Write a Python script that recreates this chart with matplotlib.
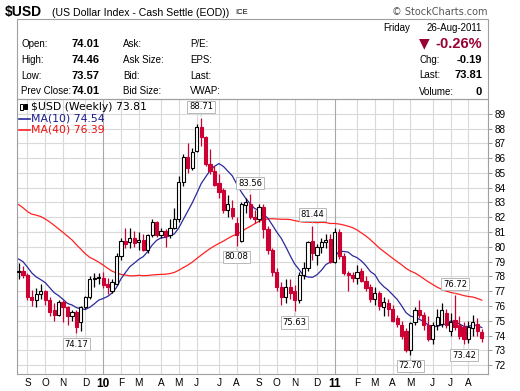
import numpy as np
import pandas as pd
import matplotlib
matplotlib.use('Agg')
import matplotlib.pyplot as plt
from matplotlib.patches import Rectangle

# weekly bars, dated by the Monday of each week
weeks = pd.date_range('2009-08-24', periods=105, freq='W-MON')

opens = [78.3, 78.4, 78.1, 76.6, 76.4, 76.8, 77.0, 76.4, 75.7, 75.4,
         76.3, 75.9, 75.3, 75.6, 74.9, 75.95, 76.6, 77.8, 77.9, 77.9,
         77.5, 77.0, 77.5, 79.4, 80.4, 80.3, 80.6, 80.3, 80.45, 79.8,
         80.8, 81.7, 80.8, 81.05, 80.8, 81.3, 81.9, 84.4, 86.1, 85.3,
         86.5, 88.1, 87.4, 85.6, 85.1, 84.3, 83.85, 82.5, 82.65, 81.6,
         80.4, 82.8, 82.9, 82.0, 81.9, 82.7, 81.2, 79.8, 78.3, 77.3,
         76.6, 77.3, 77.0, 76.4, 78.1, 78.55, 80.4, 79.45, 80.0, 80.35,
         80.5, 79.0, 81.0, 79.4, 78.2, 78.1, 77.9, 78.4, 77.7, 77.3,
         76.5, 76.9, 75.9, 76.2, 75.8, 75.2, 74.7, 74.3, 73.0, 74.9,
         75.75, 75.4, 74.7, 73.8, 74.7, 74.8, 75.5, 74.3, 75.05, 74.7,
         74.6, 73.8, 74.5, 74.8, 74.26]
highs = [78.9, 78.7, 78.2, 77.1, 77.2, 77.5, 77.1, 76.6, 76.2, 76.4,
         76.4, 76.0, 75.7, 75.7, 76.0, 76.7, 78.0, 78.2, 78.2, 78.3,
         77.9, 77.8, 79.6, 80.6, 81.3, 81.3, 81.1, 81.0, 80.9, 80.9,
         81.9, 81.75, 81.3, 81.2, 81.9, 82.6, 84.8, 86.3, 87.0, 86.7,
         88.3, 88.71, 87.5, 86.6, 85.5, 84.9, 84.0, 83.5, 83.2, 82.0,
         83.0, 83.3, 83.56, 82.5, 82.9, 82.9, 81.4, 79.9, 78.6, 77.6,
         77.8, 77.8, 77.4, 78.3, 79.0, 80.4, 81.44, 80.2, 80.6, 80.9,
         80.9, 81.3, 81.2, 79.6, 78.4, 78.3, 78.8, 78.6, 78.0, 77.5,
         77.3, 77.0, 76.6, 76.5, 76.1, 75.4, 75.0, 74.5, 74.9, 75.9,
         76.4, 75.6, 75.3, 74.9, 75.8, 76.2, 75.8, 75.5, 76.72, 75.3,
         74.9, 75.0, 75.4, 75.2, 74.46]
lows = [77.8, 77.9, 76.4, 76.0, 75.9, 76.5, 76.1, 75.3, 75.0, 75.3,
        74.9, 74.7, 75.0, 74.17, 74.3, 75.8, 76.5, 77.3, 77.5, 77.2,
        76.8, 76.9, 77.4, 79.1, 79.9, 79.9, 80.0, 79.8, 79.7, 79.6,
        80.7, 80.7, 80.6, 80.0, 80.6, 81.2, 81.7, 84.1, 85.0, 85.2,
        86.4, 86.8, 85.5, 84.9, 84.1, 83.3, 82.3, 82.0, 81.9, 80.08,
        80.3, 82.3, 81.9, 81.6, 81.7, 80.6, 79.5, 78.0, 77.0, 76.1,
        76.2, 76.5, 75.63, 76.2, 77.8, 78.4, 79.1, 78.8, 79.6, 79.9,
        78.9, 78.9, 79.2, 78.1, 77.0, 77.6, 77.5, 77.6, 77.0, 76.3,
        76.1, 75.7, 75.3, 75.3, 74.9, 74.6, 73.8, 72.9, 72.70, 74.7,
        75.2, 74.4, 73.6, 73.45, 74.4, 74.6, 74.5, 74.0, 74.4, 73.8,
        73.42, 73.5, 74.0, 74.0, 73.57]
closes = [78.4, 78.1, 76.6, 76.4, 76.8, 77.0, 76.4, 75.6, 75.4, 76.3,
          75.9, 75.3, 75.6, 74.6, 75.95, 76.6, 77.85, 77.9, 77.95, 77.4,
          77.3, 77.6, 79.4, 80.4, 80.2, 80.6, 80.25, 80.45, 79.8, 80.8,
          81.7, 80.8, 81.05, 80.75, 81.3, 81.9, 84.4, 86.1, 85.3, 86.4,
          88.1, 87.4, 85.6, 85.1, 84.2, 83.7, 82.5, 82.9, 82.1, 80.8,
          82.9, 83.0, 82.0, 81.9, 82.7, 81.2, 79.8, 78.3, 77.3, 76.6,
          77.3, 76.9, 76.4, 78.1, 78.55, 80.35, 79.6, 80.0, 80.35, 80.45,
          79.0, 81.0, 79.4, 78.2, 78.1, 77.9, 78.3, 77.7, 77.2, 76.5,
          76.9, 76.0, 76.3, 75.8, 75.0, 74.8, 74.0, 73.0, 74.85, 75.75,
          75.4, 74.7, 73.8, 74.7, 75.25, 75.7, 74.7, 74.95, 74.6, 74.0,
          73.8, 74.6, 74.94, 74.3, 73.81]

# closes of the 39 weeks before the first bar, needed for the moving averages
prior_closes = [86.6, 87.0, 83.5, 79.5, 80.8, 82.8, 83.7, 84.5, 86.0, 85.6,
                85.2, 85.8, 87.6, 88.1, 89.0, 87.6, 83.8, 85.0, 85.1, 86.0,
                85.5, 84.3, 84.1, 82.0, 82.9, 80.0, 79.3, 80.8, 80.3, 80.2,
                79.9, 80.3, 80.4, 79.5, 78.8, 78.4, 79.0, 78.8, 78.3]

grid_weeks = ['2009-09-07', '2009-10-05', '2009-11-02', '2009-12-07', '2010-01-04',
              '2010-02-01', '2010-03-01', '2010-04-05', '2010-05-03', '2010-05-31',
              '2010-07-05', '2010-08-02', '2010-09-06', '2010-10-04', '2010-11-01',
              '2010-12-06', '2011-01-03', '2011-02-07', '2011-03-07', '2011-04-04',
              '2011-05-02', '2011-06-06', '2011-07-04', '2011-08-01']
grid_labels = ['S', 'O', 'N', 'D', '10', 'F', 'M', 'A', 'M', 'J', 'J', 'A',
               'S', 'O', 'N', 'D', '11', 'F', 'M', 'A', 'M', 'J', 'J', 'A']

# (week, value, above?) for the high/low callouts
callouts = [('2009-11-23', 74.17, False), ('2010-06-07', 88.71, True),
            ('2010-08-02', 80.08, False), ('2010-08-23', 83.56, True),
            ('2010-11-01', 75.63, False), ('2010-11-29', 81.44, True),
            ('2011-05-02', 72.70, False), ('2011-07-11', 76.72, True),
            ('2011-07-25', 73.42, False)]

W, H = 520, 391
RED = '#cc0033'
BLUE = '#2a2a9c'
MARED = '#ff2222'
GRID = '#d9d9d9'


def fx(x):
    return x / W


def fy(y):
    return 1 - y / H


opens = np.array(opens)
highs = np.array(highs)
lows = np.array(lows)
closes = np.array(closes)
n = len(closes)
idx = np.arange(n)

allc = pd.Series(list(prior_closes) + list(closes))
ma10 = allc.rolling(10).mean().to_numpy()[-n:]
ma40 = allc.rolling(40).mean().to_numpy()[-n:]

fig = plt.figure(figsize=(W / 100, H / 100), dpi=100)
fig.patch.set_facecolor('white')

left, right, top, bottom = 16.5, 488, 99, 374
ax = fig.add_axes([fx(left), fy(bottom), fx(right - left), (bottom - top) / H])
ax.set_xlim(-0.45, 105.4)
ax.set_ylim(71.4, 90.0)

# grid
for v in range(72, 90):
    ax.axhline(v, color=GRID, lw=0.8, zorder=0)
wk_pos = {d: i for i, d in enumerate(weeks.strftime('%Y-%m-%d'))}
gx = [wk_pos[d] for d in grid_weeks]
for p, lab in zip(gx, grid_labels):
    yr = lab.isdigit()
    ax.axvline(p, color='#a8a8a8' if yr else GRID, lw=0.8, zorder=0)

# moving averages
ax.plot(idx, ma40, color=MARED, lw=0.9, zorder=2)
ax.plot(idx, ma10, color=BLUE, lw=0.9, zorder=2)

# candles
up = closes >= opens
for i in range(n):
    c = 'black' if up[i] else RED
    lo_b, hi_b = min(opens[i], closes[i]), max(opens[i], closes[i])
    ax.vlines(i, lows[i], highs[i], color=c, lw=0.9, zorder=3)
    hgt = max(hi_b - lo_b, 0.04)
    ax.add_patch(Rectangle((i - 0.35, lo_b), 0.7, hgt,
                           facecolor='white' if up[i] else RED,
                           edgecolor=c, lw=0.8, zorder=4))

# callouts
for d, v, above in callouts:
    i = wk_pos[d]
    ax.annotate(f'{v:.2f}', xy=(i, v), xytext=(0, 8 if above else -8),
                textcoords='offset points', ha='center', va='center',
                fontsize=6, family='DejaVu Sans', zorder=6,
                bbox=dict(boxstyle='square,pad=0.2', fc='white', ec='#b8b8b8', lw=0.7),
                arrowprops=dict(arrowstyle='-', color='#c8c8c8', lw=0.6, shrinkA=0, shrinkB=1))

ax.yaxis.tick_right()
ax.set_yticks(range(72, 90))
ax.set_yticklabels([str(v) for v in range(72, 90)], fontsize=7.2, family='Liberation Sans')
ax.tick_params(axis='y', length=3, width=0.6, color='#888888', pad=1.5)
ax.set_xticks(gx)
ax.set_xticklabels(grid_labels, fontsize=7.2, family='Liberation Sans')
for t, lab in zip(ax.get_xticklabels(), grid_labels):
    if lab.isdigit():
        t.set_fontweight('bold')
        t.set_fontsize(8.5)
ax.tick_params(axis='x', length=0, pad=3)
for s in ax.spines.values():
    s.set_color('#a0a0a0')
    s.set_linewidth(0.8)

# legend
lg = dict(transform=fig.transFigure, fontsize=7.8, family='DejaVu Sans', va='center')
fig.add_artist(Rectangle((fx(20), fy(110)), fx(2.5), 6 / H, transform=fig.transFigure,
                         fc='white', ec='black', lw=0.7))
fig.add_artist(Rectangle((fx(24), fy(109)), fx(2.5), 5 / H, transform=fig.transFigure,
                         fc='black', ec='black', lw=0.7))
fig.text(fx(31), fy(107), '\\$USD (Weekly) 73.81', color='black', **lg)
fig.add_artist(plt.Line2D([fx(19), fx(30)], [fy(118.5)] * 2, color=BLUE, lw=1.2))
fig.text(fx(31), fy(118.5), f'MA(10) {ma10[-1]:.2f}', color='#1c1c8c', **lg)
fig.add_artist(plt.Line2D([fx(19), fx(30)], [fy(130)] * 2, color=MARED, lw=1.2))
fig.text(fx(31), fy(130), f'MA(40) {ma40[-1]:.2f}', color='#ee1111', **lg)

# header
fig.text(fx(5), fy(12), '\\$USD', fontsize=10, fontweight='bold', family='Liberation Sans', va='center')
fig.text(fx(52), fy(12.5), '(US Dollar Index - Cash Settle (EOD))', fontsize=7.6,
         family='Liberation Sans', va='center')
fig.text(fx(235), fy(12.5), 'ICE', fontsize=5.5, family='Liberation Sans', va='center')
fig.text(fx(488), fy(12), '\u00a9 StockCharts.com', fontsize=7, family='DejaVu Sans',
         color='#555555', ha='right', va='center')

fig.add_artist(Rectangle((fx(left), fy(top)), fx(right - left), (top - 19) / H,
                         transform=fig.transFigure, fc='none', ec='#a0a0a0', lw=0.8))

info = dict(fontsize=7.0, family='Liberation Sans', va='center')
vals = dict(fontsize=8, family='Liberation Sans', fontweight='bold', va='center', ha='right')
rows_y = [44, 60, 76, 91.5]
for y, a, b, c in zip(rows_y, ['Open:', 'High:', 'Low:', 'Prev Close:'],
                      ['Ask:', 'Ask Size:', 'Bid:', 'Bid Size:'],
                      ['P/E:', 'EPS:', 'Last:', 'VWAP:']):
    fig.text(fx(21), fy(y), a, **info)
    fig.text(fx(123), fy(y), b, **info)
    fig.text(fx(190), fy(y), c, **info)
for y, v in zip(rows_y, ['74.01', '74.46', '73.57', '74.01']):
    fig.text(fx(100), fy(y), v, **vals)

fig.text(fx(383), fy(28), 'Friday', **info)
fig.text(fx(482), fy(28), '26-Aug-2011', ha='right', **info)
fig.text(fx(419), fy(43.5), '\u25bc', fontsize=10, family='DejaVu Sans', color='#990033', va='center')
fig.text(fx(482), fy(43.5), '-0.26%', fontsize=10.5, fontweight='bold', family='Liberation Sans',
         color='#990033', va='center', ha='right')
for y, a, v in zip([60, 75.5, 92], ['Chg:', 'Last:', 'Volume:'], ['-0.19', '73.81', '0']):
    fig.text(fx(419), fy(y), a, **info)
    fig.text(fx(482), fy(y), v, **vals)

fig.savefig('out.png', dpi=100, facecolor='white')
